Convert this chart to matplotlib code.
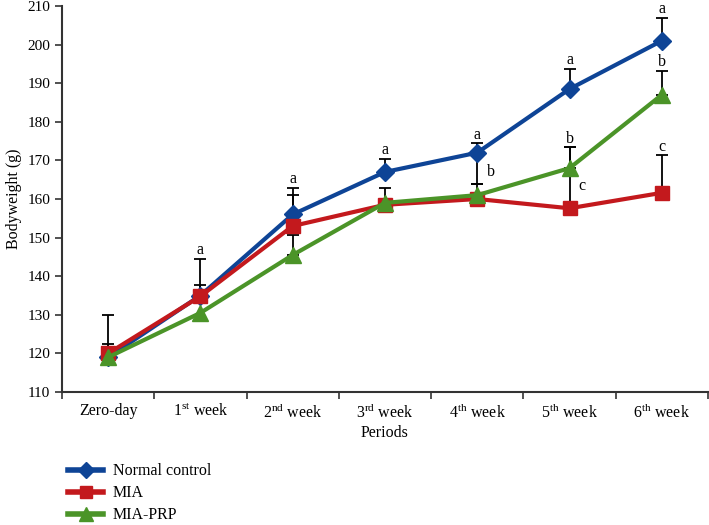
import numpy as np
import matplotlib
matplotlib.use("Agg")
import matplotlib.pyplot as plt

# -------------------------
# Data
# -------------------------

periods = ["Zero-day", "1$^{\\rm st}$ week", "2$^{\\rm nd}$ week", "3$^{\\rm rd}$ week",
           "4$^{\\rm th}$ week", "5$^{\\rm th}$ week", "6$^{\\rm th}$ week"]

normal = [119.0, 135.0, 156.0, 167.0, 172.0, 188.5, 201.0]
mia = [120.0, 134.8, 153.0, 158.5, 160.0, 157.6, 161.6]
prp = [119.0, 130.5, 145.5, 159.0, 161.0, 168.0, 187.0]

# upper error (0 = none drawn)
normal_err = [3.4, 2.7, 5.0, 3.3, 2.4, 5.3, 6.0]
mia_err = [10.0, 9.7, 9.8, 0.0, 0.0, 15.8, 9.7]
prp_err = [0.0, 0.0, 5.2, 3.8, 3.0, 5.4, 6.2]
normal_low_err = [0.0, 0.0, 0.0, 0.0, 8.0, 0.0, 0.0]

# significance letters drawn above the error caps
normal_sig = ["", "", "", "a", "a", "a", "a"]
mia_sig = ["", "a", "a", "", "", "", "c"]
prp_sig = ["", "", "", "", "", "b", "b"]
# letters drawn beside the bars: (period index, y, letter)
side_sig = [(4, 167.0, "b"), (5, 163.3, "c")]

# -------------------------
# Style
# -------------------------

plt.rcParams["font.family"] = "Liberation Serif"
plt.rcParams["mathtext.fontset"] = "custom"
plt.rcParams["mathtext.rm"] = "Liberation Serif"

blue = "#0E4496"
red = "#C3191D"
green = "#4B9428"

fig = plt.figure(figsize=(7.09, 5.25), dpi=100)
ax = fig.add_axes([0.0874, 0.2533, 0.9112, 0.7353])

x = np.arange(len(periods))

series = [
    ("Normal control", normal, normal_err, normal_sig, blue, "D", 9),
    ("MIA", mia, mia_err, mia_sig, red, "s", 10),
    ("MIA-PRP", prp, prp_err, prp_sig, green, "^", 11),
]

# error bars first, under the lines
for name, vals, err, sig, color, mk, ms in series:
    vals = np.array(vals)
    err = np.array(err)
    keep = err > 0
    ax.errorbar(x[keep], vals[keep], yerr=[np.zeros(keep.sum()), err[keep]],
                fmt="none", ecolor="black", elinewidth=1.3, capsize=4, capthick=1.3, zorder=1)

lo = np.array(normal_low_err)
keep = lo > 0
ax.errorbar(x[keep], np.array(normal)[keep], yerr=[lo[keep], np.zeros(keep.sum())],
            fmt="none", ecolor="black", elinewidth=1.3, capsize=4, capthick=1.3, zorder=1)

for name, vals, err, sig, color, mk, ms in series:
    ax.plot(x, vals, color=color, lw=3, marker=mk, ms=ms, label=name, zorder=3)

for name, vals, err, sig, color, mk, ms in series:
    for i, s in enumerate(sig):
        if s:
            ax.text(x[i], vals[i] + err[i] + 0.2, s, ha="center", va="bottom",
                    fontsize=11.5, clip_on=False)

for i, yv, s in side_sig:
    ax.text(x[i] + 0.1, yv, s, ha="left", va="center", fontsize=11.5)

# -------------------------
# Axes
# -------------------------

ax.set_xlim(-0.5, len(periods) - 0.5)
ax.set_ylim(110, 210)
ax.set_yticks(np.arange(110, 211, 10))
ax.set_xticks(x)
ax.set_xticklabels(periods, fontsize=11.5)
ax.set_xticks(np.arange(-0.5, len(periods), 1), minor=True)
ax.tick_params(axis="x", which="major", length=0, pad=8)
ax.tick_params(axis="x", which="minor", length=5, width=1.2, color="#333333")
ax.tick_params(axis="y", length=5, width=1.2, color="#333333", labelsize=11)
ax.spines["top"].set_visible(False)
ax.spines["right"].set_visible(False)
for sp in ("left", "bottom"):
    ax.spines[sp].set_linewidth(1.5)
    ax.spines[sp].set_color("#333333")

ax.set_xlabel("Periods", fontsize=11.5, labelpad=2)
ax.set_ylabel("Bodyweight (g)", fontsize=11.5, labelpad=4)

leg = ax.legend(loc="upper left", bbox_to_anchor=(0.0, -0.168), frameon=False, fontsize=11.5,
                handlelength=2.2, handletextpad=0.6, labelspacing=0.38, borderaxespad=0,
                markerscale=0.9)
for line in leg.get_lines():
    line.set_linewidth(4)

fig.savefig("out.png", dpi=100)
